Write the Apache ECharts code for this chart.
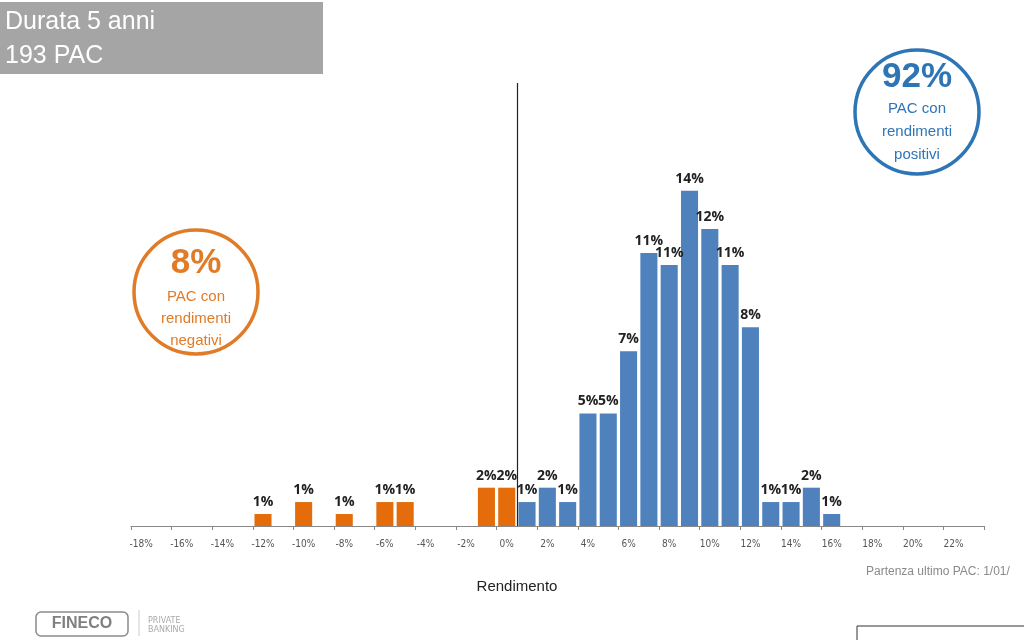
<!DOCTYPE html>
<html><head><meta charset="utf-8">
<script src="https://cdn.jsdelivr.net/npm/echarts@6/dist/echarts.min.js"></script>
<style>html,body{margin:0;padding:0;background:#fff}#c{width:1024px;height:640px}</style>
</head><body><div id="c"></div>
<script>
// Rendimento categories (%), from -18% to 23%
const categories = [-18,-17,-16,-15,-14,-13,-12,-11,-10,-9,-8,-7,-6,-5,-4,-3,-2,-1,0,1,2,3,4,5,6,7,8,9,10,11,12,13,14,15,16,17,18,19,20,21,22,23];
// Share of PAC (%) per return bucket
const shares = [null,null,null,null,null,null,0.5,null,1.0,null,0.5,null,1.0,1.0,null,null,null,1.6,1.6,1.0,1.6,1.0,4.7,4.7,7.3,11.4,10.9,14.0,12.4,10.9,8.3,1.0,1.0,1.6,0.5,null,null,null,null,null,null,null];
const tickLabels = ['-18%','-16%','-14%','-12%','-10%','-8%','-6%','-4%','-2%','0%','2%','4%','6%','8%','10%','12%','14%','16%','18%','20%','22%'];
const negColor = '#e46c0a', posColor = '#4f81bd';

const chart = echarts.init(document.getElementById('c'));
const F = 'Liberation Sans, Arial, sans-serif';
chart.setOption({
  animation: false,
  grid: {left: 131, right: 40, top: 83, bottom: 114},
  title: {text: 'Rendimento', left: 512, top: 574, textAlign: 'center',
    textStyle: {fontFamily: F, fontSize: 15, fontWeight: 'normal', color: '#222'}},
  xAxis: [{
    type: 'category', data: categories,
    axisLine: {lineStyle: {color: '#888', width: 1}},
    axisTick: {show: true, length: 4, lineStyle: {color: '#888'}},
    axisLabel: {
      interval: (i, v) => tickLabels.indexOf(v + '%') >= 0,
      formatter: v => v + '%', fontSize: 10, color: '#555', margin: 13, fontFamily: 'DejaVu Sans Condensed, sans-serif'
    }
  }, {
    type: 'value', min: -18.5, max: 23.5, show: false
  }],
  yAxis: {type: 'value', min: 0, max: 18.5, show: false},
  series: [{
    type: 'bar', data: shares, barCategoryGap: '16%',
    itemStyle: {color: p => categories[p.dataIndex] <= 0 ? negColor : posColor},
    label: {show: true, position: 'top', distance: 5,
      formatter: p => p.value == null ? '' : Math.round(p.value) + '%',
      fontFamily: 'Open Sans, sans-serif', fontWeight: 'bold', fontSize: 14, color: '#222'}
  }, {
    type: 'scatter', xAxisIndex: 1, data: [], silent: true,
    markLine: {symbol: 'none', silent: true, label: {show: false},
      lineStyle: {color: '#222', width: 1.2, type: 'solid'},
      data: [{xAxis: 0.5}]}
  }],
  graphic: [
    {type: 'rect', shape: {x: 0, y: 2, width: 323, height: 72}, style: {fill: '#a5a5a5'}},
    {type: 'text', x: 5, y: 22, style: {text: 'Durata 5 anni', fill: '#fff', font: '25px Liberation Sans, Arial, sans-serif', verticalAlign: 'middle'}},
    {type: 'text', x: 5, y: 56, style: {text: '193 PAC', fill: '#fff', font: '25px Liberation Sans, Arial, sans-serif', verticalAlign: 'middle'}},
    // blue circle
    {type: 'circle', shape: {cx: 917, cy: 112, r: 62}, style: {fill: 'none', stroke: '#2e75b6', lineWidth: 3.5}},
    {type: 'text', x: 917, y: 77, style: {text: '92%', fill: '#2e75b6', font: 'bold 35px Liberation Sans, Arial, sans-serif', align: 'center', verticalAlign: 'middle'}},
    {type: 'text', x: 917, y: 97, style: {text: 'PAC con\nrendimenti\npositivi', fill: '#2e75b6', font: '15px Liberation Sans, Arial, sans-serif', lineHeight: 23, align: 'center', verticalAlign: 'top'}},
    // orange circle
    {type: 'circle', shape: {cx: 196, cy: 292, r: 62}, style: {fill: 'none', stroke: '#e07b28', lineWidth: 3.5}},
    {type: 'text', x: 196, y: 263, style: {text: '8%', fill: '#e07b28', font: 'bold 35px Liberation Sans, Arial, sans-serif', align: 'center', verticalAlign: 'middle'}},
    {type: 'text', x: 196, y: 286, style: {text: 'PAC con\nrendimenti\nnegativi', fill: '#e07b28', font: '15px Liberation Sans, Arial, sans-serif', lineHeight: 22, align: 'center', verticalAlign: 'top'}},
    // footnote
    {type: 'text', x: 866, y: 572, style: {text: 'Partenza ultimo PAC: 1/01/', fill: '#8a8a8a', font: '12px Liberation Sans, Arial, sans-serif', verticalAlign: 'middle'}},
    {type: 'rect', shape: {x: 857, y: 626, width: 200, height: 40}, style: {fill: 'none', stroke: '#333', lineWidth: 1}},
    // logo
    {type: 'rect', shape: {x: 36, y: 612, width: 92, height: 24, r: 5}, style: {fill: '#fff', stroke: '#8a8a8a', lineWidth: 1.5}},
    {type: 'text', x: 82, y: 624, style: {text: 'FINECO', fill: '#808080', font: 'bold 16px Liberation Sans, Arial, sans-serif', align: 'center', verticalAlign: 'middle'}},
    {type: 'line', shape: {x1: 139, y1: 610, x2: 139, y2: 636}, style: {stroke: '#ccc', lineWidth: 1}},
    {type: 'text', x: 148, y: 616, style: {text: 'PRIVATE\nBANKING', fill: '#aaa', font: '8px DejaVu Sans, sans-serif', lineHeight: 9}}
  ]
});
</script></body></html>
